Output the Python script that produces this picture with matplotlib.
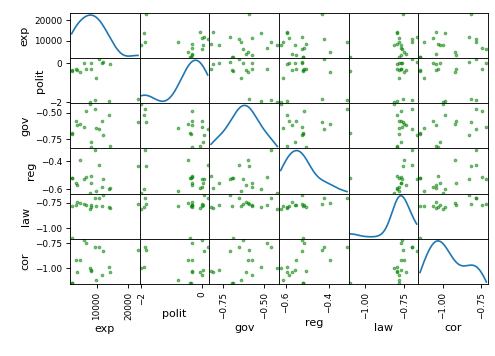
import matplotlib
matplotlib.use('Agg')
import matplotlib.pyplot as plt
import numpy as np
import pandas as pd

names = ['exp', 'polit', 'gov', 'reg', 'law', 'cor']

exp = [2184, 2402, 3432, 3744, 4836, 6084, 6552, 7800, 8112, 8330,
       9360, 9672, 10764, 11544, 12012, 13822, 14352, 22994]
polit = [-0.39, -0.36, -0.31, -0.33, -0.44, 0.00, -0.31, -2.00, 0.03, -0.31,
         -1.87, -0.78, 0.20, 0.00, 0.07, -1.92, -0.05, -1.83]
gov = [-0.69, -0.695, -0.575, -0.61, -0.60, -0.63, -0.485, -0.42, -0.775, -0.825,
       -0.46, -0.64, -0.655, -0.575, -0.71, -0.52, -0.815, -0.59]
reg = [-0.519, -0.519, -0.555, -0.571, -0.393, -0.524, -0.516, -0.625, -0.559, -0.507,
       -0.316, -0.614, -0.424, -0.588, -0.524, -0.596, -0.595, -0.433]
law = [-1.096, -0.784, -0.773, -0.74, -0.756, -0.766, -0.77, -0.816, -0.773, -0.797,
       -0.70, -0.784, -0.705, -0.784, -0.672, -0.795, -0.80, -0.76]
cor = [-1.15, -1.15, -0.917, -1.044, -0.924, -0.717, -0.744, -1.00, -1.017, -1.034,
       -0.784, -1.124, -0.784, -1.067, -0.827, -0.99, -1.044, -0.817]

df = pd.DataFrame({'exp': exp, 'polit': polit, 'gov': gov,
                   'reg': reg, 'law': law, 'cor': cor})

tick_locs = {'exp': [10000, 20000], 'polit': [-2, 0], 'gov': [-0.75, -0.50],
             'reg': [-0.6, -0.4], 'law': [-1.00, -0.75], 'cor': [-1.00, -0.75]}


def kde(values, grid):
    # gaussian kde, scott bandwidth (same as scipy default)
    n = len(values)
    bw = np.std(values, ddof=1) * n ** (-1 / 5)
    z = (grid[:, None] - values[None, :]) / bw
    return np.exp(-0.5 * z ** 2).sum(axis=1) / (n * bw * np.sqrt(2 * np.pi))


n = len(names)
fig, axes = plt.subplots(n, n, figsize=(495 / 80, 356 / 80), dpi=80)
fig.subplots_adjust(left=70 / 495, right=488 / 495, top=1 - 13 / 356,
                    bottom=1 - 284 / 356, wspace=0, hspace=0)

bounds = []
for c in names:
    v = df[c].values
    pad = (v.max() - v.min()) * 0.025
    bounds.append((v.min() - pad, v.max() + pad))

for i, a in enumerate(names):
    for j, b in enumerate(names):
        ax = axes[i, j]
        if i == j:
            v = df[a].values
            ind = np.linspace(v.min(), v.max(), 1000)
            ax.plot(ind, kde(v, ind))
        else:
            ax.scatter(df[b], df[a], marker='.', s=22, alpha=0.5, color='green')
            ax.set_ylim(bounds[i])
            ax.set_yticks(tick_locs[a])
        ax.set_xlim(bounds[j])
        ax.set_xticks(tick_locs[b])
        ax.set_xlabel(b)
        ax.set_ylabel(a)
        if j != 0:
            ax.yaxis.set_visible(False)
        if i != n - 1:
            ax.xaxis.set_visible(False)
        ax.tick_params(axis='x', labelsize=8, labelrotation=90)
        ax.tick_params(axis='y', labelsize=8)

# first diagonal panel shows the exp scale on its y axis
locs = np.array(tick_locs['exp'])
lim1 = bounds[0]
lim0 = axes[0, 0].get_ylim()
adj = (locs - lim1[0]) / (lim1[1] - lim1[0]) * (lim0[1] - lim0[0]) + lim0[0]
axes[0, 0].set_yticks(adj)
axes[0, 0].set_yticklabels([str(v) for v in locs])

fig.savefig('out.png')
